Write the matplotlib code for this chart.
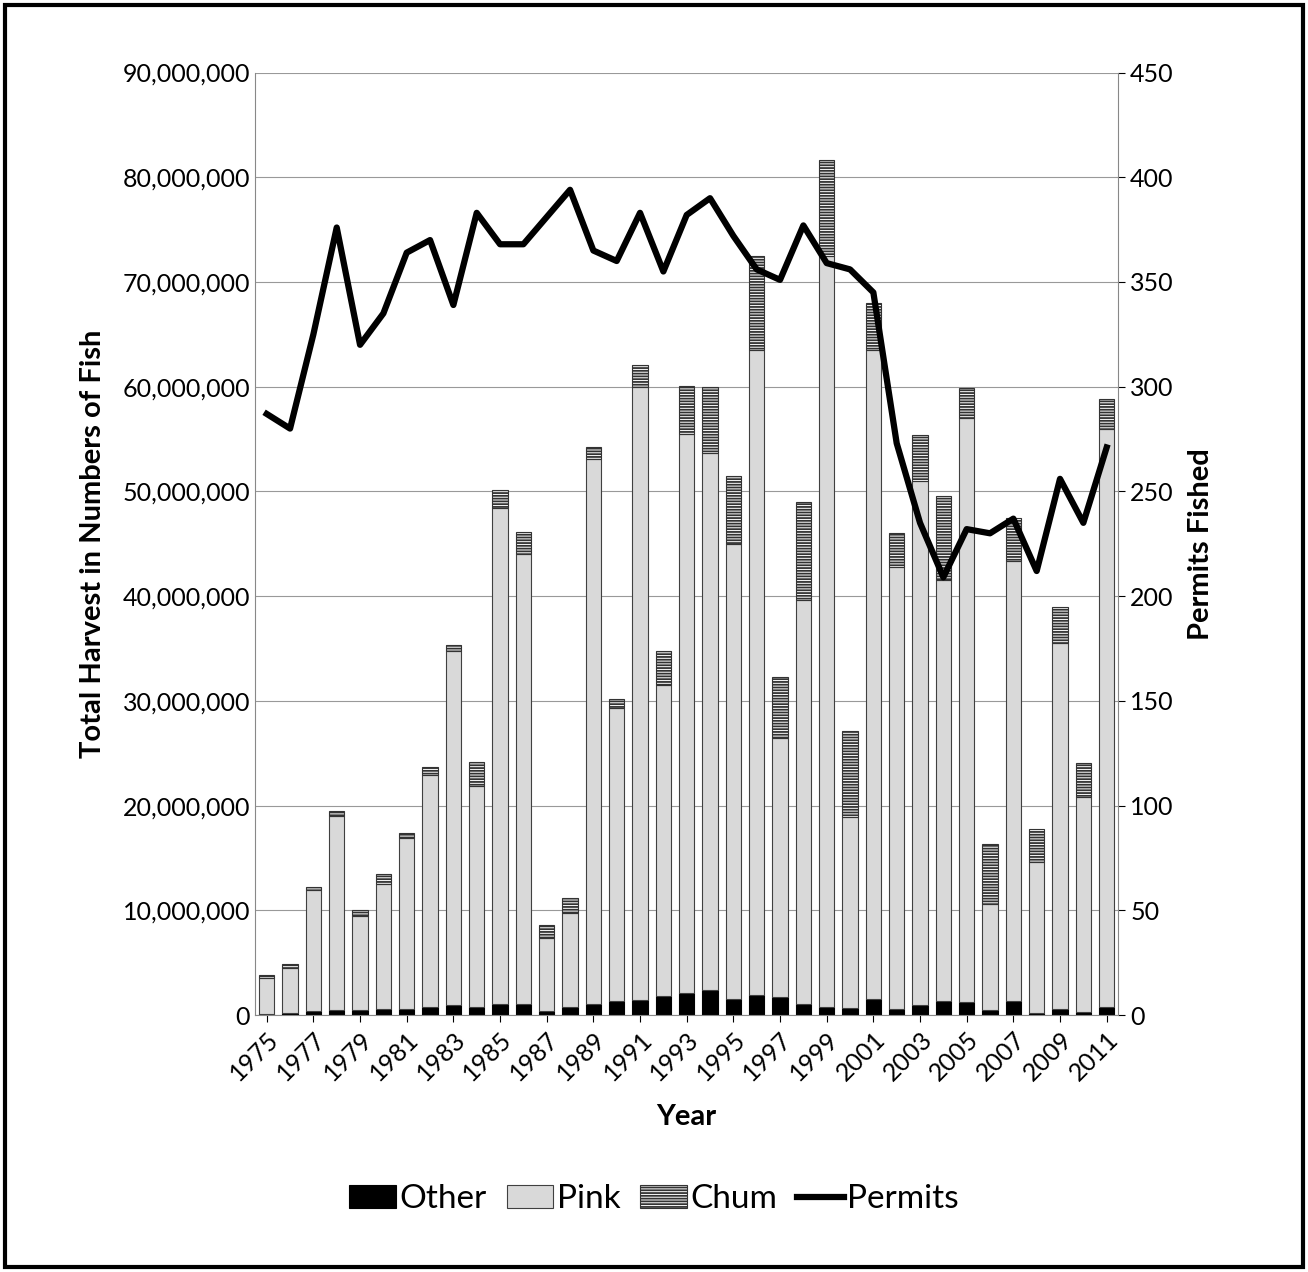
import numpy as np
import matplotlib.pyplot as plt
from matplotlib.ticker import FuncFormatter
from matplotlib.patches import Rectangle

years = list(range(1975, 2012))
# millions of fish
total = [3.8, 4.9, 12.2, 19.5, 10.0, 13.5, 17.4, 23.7, 35.3, 24.2, 50.1, 46.1, 8.6, 11.2,
         54.2, 30.2, 62.1, 34.8, 60.1, 60.0, 51.5, 72.5, 32.3, 49.0, 81.6, 27.1, 68.0, 46.0,
         55.4, 49.6, 59.9, 16.3, 47.5, 17.8, 39.0, 24.1, 58.8]
pink_top = [3.5, 4.5, 11.9, 19.0, 9.5, 12.5, 16.9, 22.9, 34.8, 21.9, 48.4, 44.0, 7.4, 9.7,
            53.1, 29.3, 60.0, 31.5, 55.5, 53.7, 45.0, 63.5, 26.5, 39.6, 72.5, 18.9, 63.5, 42.8,
            51.0, 41.5, 57.0, 10.6, 43.4, 14.6, 35.5, 20.8, 56.0]
other = [0.1, 0.2, 0.4, 0.5, 0.5, 0.6, 0.6, 0.8, 1.0, 0.8, 1.1, 1.1, 0.4, 0.8,
         1.1, 1.3, 1.4, 1.8, 2.1, 2.4, 1.5, 1.9, 1.7, 1.1, 0.8, 0.7, 1.5, 0.6,
         1.0, 1.3, 1.2, 0.5, 1.3, 0.2, 0.6, 0.3, 0.8]
permits = [287, 280, 325, 376, 320, 335, 364, 370, 339, 383, 368, 368, 381, 394, 365, 360,
           383, 355, 382, 390, 372, 356, 351, 377, 359, 356, 345, 273, 235, 209, 232, 230,
           237, 212, 256, 235, 271]

other = np.array(other) * 1e6
pink = (np.array(pink_top) - np.array(other) / 1e6) * 1e6
chum = (np.array(total) - np.array(pink_top)) * 1e6

plt.rcParams['font.family'] = 'Lato'
plt.rcParams['hatch.linewidth'] = 1.3
plt.rcParams['hatch.color'] = '#333333'
fig = plt.figure(figsize=(13.08, 12.72), dpi=100)
ax = fig.add_axes([0.195, 0.202, 0.66, 0.741])
x = np.arange(len(years))
w = 0.66
b1 = ax.bar(x, other, w, color='black', edgecolor='black', linewidth=0.8, label='Other')
b2 = ax.bar(x, pink, w, bottom=other, color='#d9d9d9', edgecolor='#404040', linewidth=0.8, label='Pink')
b3 = ax.bar(x, chum, w, bottom=other + pink, color='white', edgecolor='#333333', hatch='------',
            linewidth=0.8, label='Chum')
ax.set_ylim(0, 90e6)
ax.set_xlim(-0.5, len(years) - 0.5)
ax.set_yticks(np.arange(0, 90e6 + 1, 10e6))
ax.yaxis.set_major_formatter(FuncFormatter(lambda v, p: f'{int(v):,}'))
ax.grid(axis='y', color='#999999', linewidth=0.8)
ax.set_axisbelow(True)
ax.set_xticks(x[::2])
ax.set_xticklabels(years[::2], rotation=45, ha='right', rotation_mode='anchor')
ax.tick_params(labelsize=18, length=0)
ax.tick_params(axis='x', length=5, pad=4)
for s in ['top', 'right']:
    ax.spines[s].set_visible(False)
ax.spines['left'].set_color('#888888')
ax.spines['bottom'].set_color('#888888')
ax.set_ylabel('Total Harvest in Numbers of Fish', fontsize=21, fontweight='bold', labelpad=12)
ax.set_xlabel('Year', fontsize=21, fontweight='bold', labelpad=14)

ax2 = ax.twinx()
l, = ax2.plot(x, permits, color='black', linewidth=4.5, label='Permits')
ax2.set_ylim(0, 450)
ax2.set_yticks(range(0, 451, 50))
ax2.tick_params(labelsize=18, length=5)
for s in ['top', 'left', 'bottom']:
    ax2.spines[s].set_visible(False)
ax2.spines['right'].set_color('#888888')
ax2.set_ylabel('Permits Fished', fontsize=21, fontweight='bold', labelpad=10)

fig.legend([b1, b2, b3, l], ['Other', 'Pink', 'Chum', 'Permits'], loc='center',
           bbox_to_anchor=(0.5, 0.057), ncol=4, frameon=False, fontsize=24,
           handlelength=1.4, handletextpad=0.1, columnspacing=0.6)
fig.patches.append(Rectangle((0.004, 0.004), 0.992, 0.992, transform=fig.transFigure,
                             fill=False, edgecolor='black', linewidth=3))
fig.savefig('out.png')
